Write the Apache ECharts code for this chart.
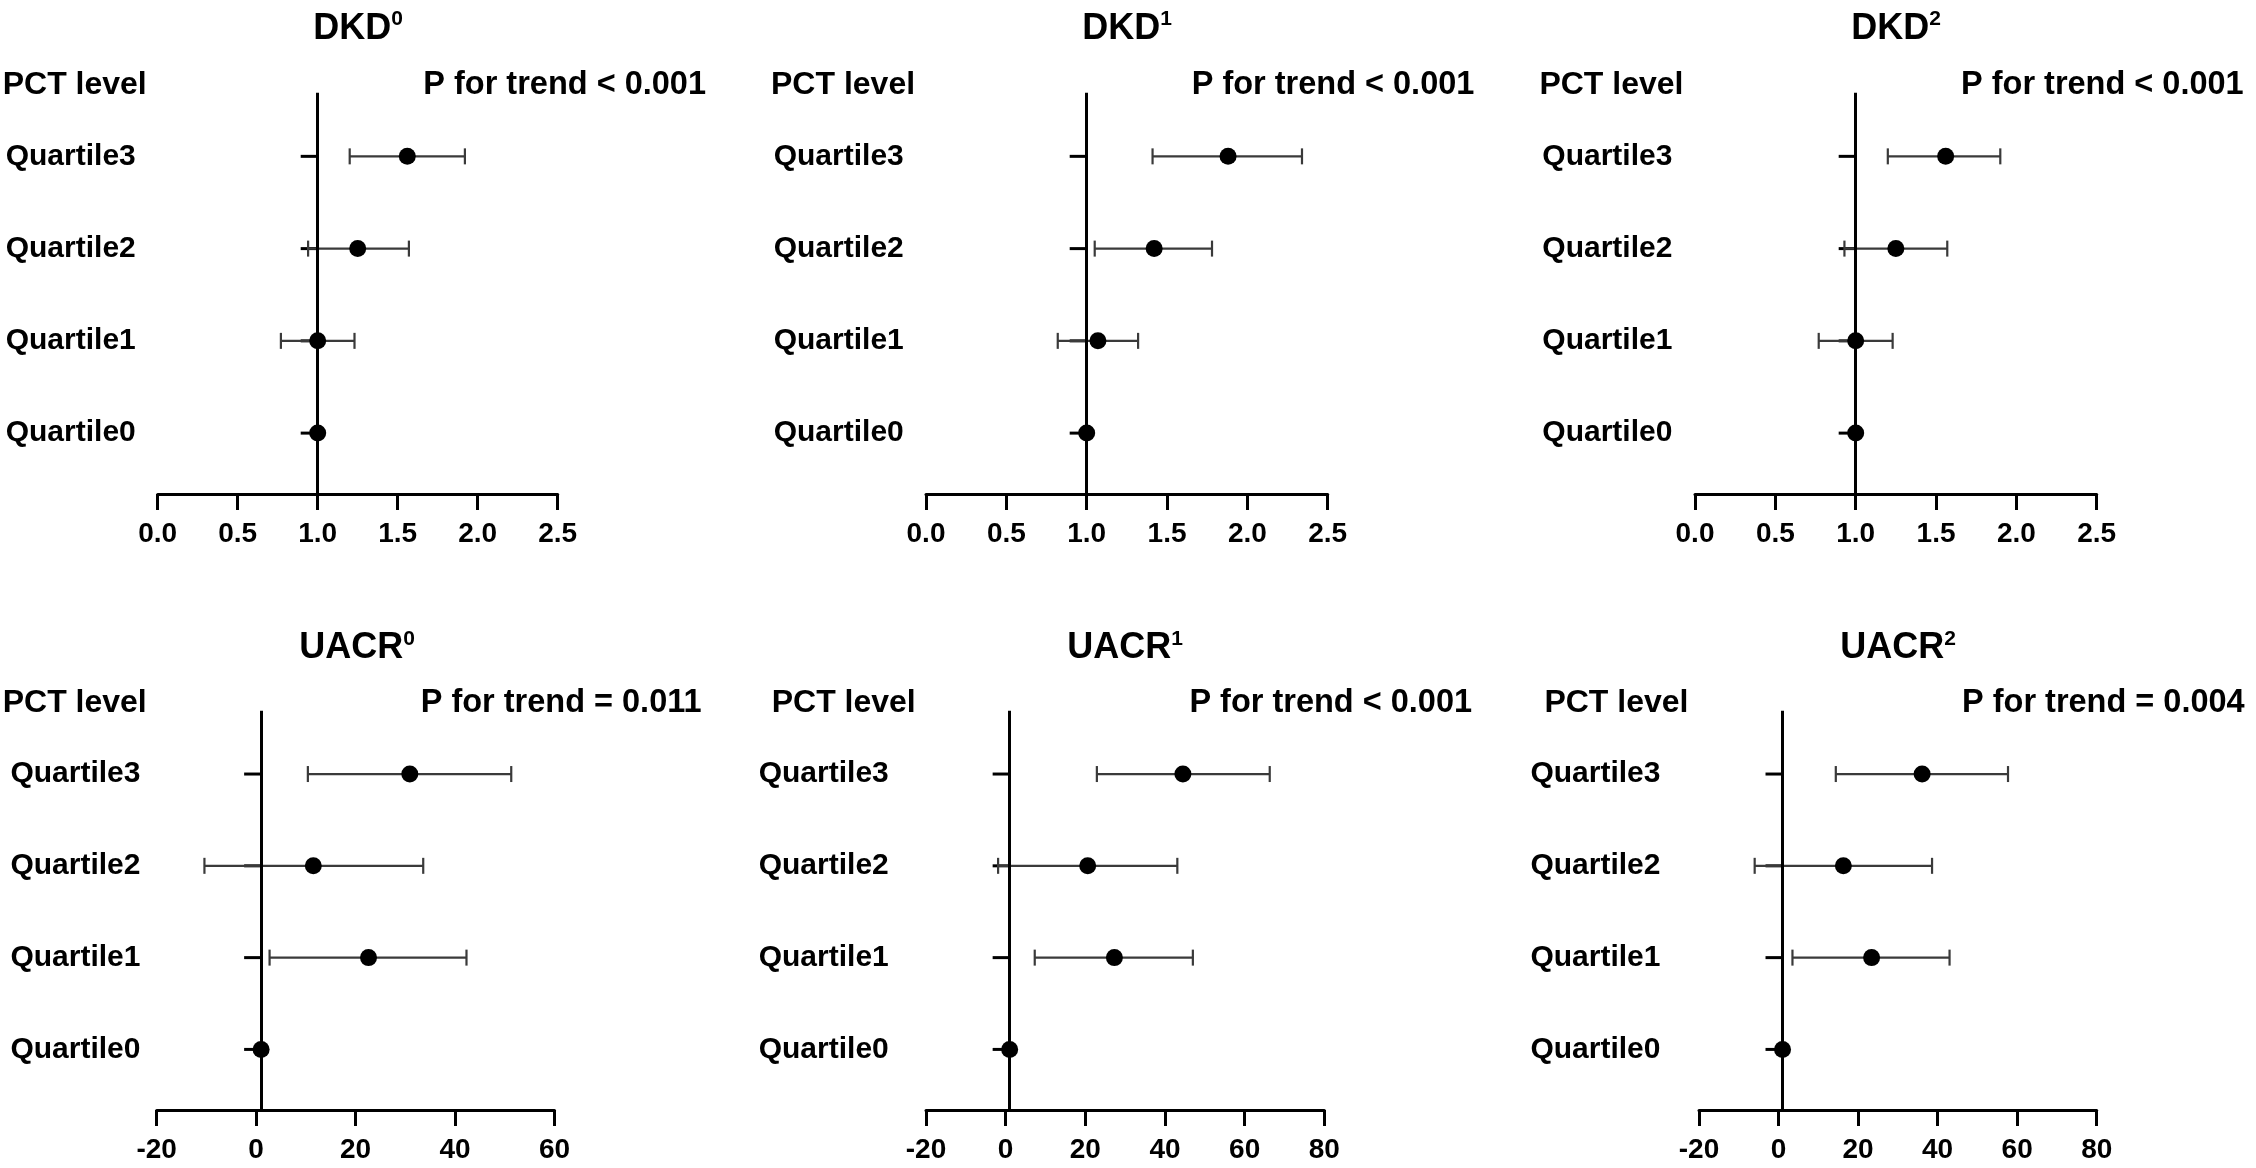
<!DOCTYPE html>
<html>

<head>
    <meta charset="utf-8">
    <script src="https://cdn.jsdelivr.net/npm/echarts@6/dist/echarts.min.js"></script>
    <style>
        html, body { margin: 0; padding: 0; background: #fff; }
    </style>
</head>

<body>
    <div id="main" style="width: 2256px;height:1168px;"></div>
    <script type="text/javascript">
        // data (Quartile0 is the reference group)
        var categories = ['Quartile0', 'Quartile1', 'Quartile2', 'Quartile3'];

        var dkd0Or = [1.00, 1.00, 1.25, 1.56];
        var dkd0Low = [null, 0.77, 0.94, 1.20];
        var dkd0High = [null, 1.23, 1.57, 1.92];

        var dkd1Or = [1.00, 1.07, 1.42, 1.88];
        var dkd1Low = [null, 0.82, 1.05, 1.41];
        var dkd1High = [null, 1.32, 1.78, 2.34];

        var dkd2Or = [1.00, 1.00, 1.25, 1.56];
        var dkd2Low = [null, 0.77, 0.93, 1.20];
        var dkd2High = [null, 1.23, 1.57, 1.90];

        var uacr0Or = [1, 22.6, 11.5, 30.9];
        var uacr0Low = [null, 2.7, -10.4, 10.4];
        var uacr0High = [null, 42.3, 33.6, 51.3];

        var uacr1Or = [1, 27.3, 20.6, 44.5];
        var uacr1Low = [null, 7.3, -1.9, 22.9];
        var uacr1High = [null, 47.0, 43.1, 66.3];

        var uacr2Or = [1, 23.4, 16.3, 36.1];
        var uacr2Low = [null, 3.5, -6.0, 14.4];
        var uacr2High = [null, 43.0, 38.6, 57.7];

        var titleMain = ['DKD', 'DKD', 'DKD', 'UACR', 'UACR', 'UACR'];
        var titleSup = ['0', '1', '2', '0', '1', '2'];
        var trendText = ['P for trend < 0.001', 'P for trend < 0.001', 'P for trend < 0.001',
            'P for trend = 0.011', 'P for trend < 0.001', 'P for trend = 0.004'];

        // x axis ranges [min, max, interval]
        var xRanges = [[0, 2.5, 0.5], [0, 2.5, 0.5], [0, 2.5, 0.5],
            [-20, 60, 20], [-20, 80, 20], [-20, 80, 20]];
        var refValue = 1;

        var orList = [dkd0Or, dkd1Or, dkd2Or, uacr0Or, uacr1Or, uacr2Or];
        var lowList = [dkd0Low, dkd1Low, dkd2Low, uacr0Low, uacr1Low, uacr2Low];
        var highList = [dkd0High, dkd1High, dkd2High, uacr0High, uacr1High, uacr2High];

        // layout of the six panels (pixels)
        var gridLeft = [157.7, 926, 1695, 156.7, 926, 1699];
        var gridWidth = [400, 401.7, 401.7, 397.8, 398.3, 397.7];
        var gridTop = [92.7, 92.7, 92.7, 710.7, 710.7, 710.7];
        var gridHeight = [401.3, 401.3, 401.3, 399.3, 399.3, 399.3];
        var labelLeft = [5.7, 773.7, 1542.3, 10.4, 758.7, 1530.4];
        var pctLeft = [2.7, 771, 1539.4, 2.7, 771.7, 1544.4];
        var trendLeft = [423.3, 1191.7, 1961, 420.7, 1189.4, 1962];
        var titleX = [358, 1127, 1896, 357, 1125, 1898];
        var titleTop = [9, 9, 9, 628.5, 628.5, 628.5];
        var headY = [85, 85, 85, 703, 703, 703];

        var font = '"Liberation Sans", Arial, sans-serif';

        var myChart = echarts.init(document.getElementById('main'));

        function renderErrorBar(params, api) {
            var y = api.value(0);
            var p1 = api.coord([api.value(1), y]);
            var p2 = api.coord([api.value(2), y]);
            var h = 8;
            var style = { stroke: '#3a3a3a', lineWidth: 2.2 };
            return {
                type: 'group',
                children: [
                    { type: 'line', shape: { x1: p1[0], y1: p1[1], x2: p2[0], y2: p2[1] }, style: style },
                    { type: 'line', shape: { x1: p1[0], y1: p1[1] - h, x2: p1[0], y2: p1[1] + h }, style: style },
                    { type: 'line', shape: { x1: p2[0], y1: p2[1] - h, x2: p2[0], y2: p2[1] + h }, style: style }
                ]
            };
        }

        function renderTick(params, api) {
            var p = api.coord([api.value(0), api.value(1)]);
            return {
                type: 'line',
                shape: { x1: p[0] - 17, y1: p[1], x2: p[0], y2: p[1] },
                style: { stroke: '#000', lineWidth: 3 }
            };
        }

        var grids = [], xAxes = [], yAxes = [], series = [], graphics = [];

        for (var k = 0; k < 6; k++) {
            grids.push({ left: gridLeft[k], top: gridTop[k], width: gridWidth[k], height: gridHeight[k] });

            var isDkd = k < 3;
            xAxes.push({
                gridIndex: k,
                type: 'value',
                min: xRanges[k][0],
                max: xRanges[k][1],
                interval: xRanges[k][2],
                splitLine: { show: false },
                axisLine: { onZero: false, lineStyle: { color: '#000', width: 3 } },
                axisTick: { length: 16, lineStyle: { color: '#000', width: 3 } },
                axisLabel: {
                    margin: 26,
                    color: '#000',
                    fontSize: 28,
                    fontWeight: 'bold',
                    fontFamily: font,
                    formatter: isDkd ? function (v) { return v.toFixed(1); } : null
                }
            });

            yAxes.push({
                gridIndex: k,
                type: 'value',
                min: -0.66,
                max: 3.69,
                splitLine: { show: false },
                axisLine: { show: false, onZero: false },
                axisTick: { show: false },
                axisLabel: {
                    customValues: [0, 1, 2, 3],
                    formatter: function (v) { return categories[Math.round(v)]; },
                    align: 'left',
                    margin: gridLeft[k] - labelLeft[k],
                    color: '#000',
                    fontSize: 30,
                    fontWeight: 'bold',
                    fontFamily: font
                }
            });

            var ticks = [], bars = [], points = [];
            for (var i = 0; i < categories.length; i++) {
                ticks.push([refValue, i]);
                points.push([orList[k][i], i]);
                if (lowList[k][i] !== null) {
                    bars.push([i, lowList[k][i], highList[k][i]]);
                }
            }

            // y axis drawn at x = 1, with its ticks pointing left
            series.push({
                type: 'custom',
                xAxisIndex: k,
                yAxisIndex: k,
                z: 1,
                silent: true,
                renderItem: renderTick,
                data: ticks,
                markLine: {
                    silent: true,
                    symbol: ['none', 'none'],
                    label: { show: false },
                    lineStyle: { color: '#000', width: 3, type: 'solid' },
                    data: [{ xAxis: refValue }]
                }
            });
            series.push({
                type: 'custom',
                xAxisIndex: k,
                yAxisIndex: k,
                z: 2,
                silent: true,
                renderItem: renderErrorBar,
                encode: { x: [1, 2], y: 0 },
                data: bars
            });
            series.push({
                type: 'scatter',
                xAxisIndex: k,
                yAxisIndex: k,
                z: 3,
                symbolSize: 17,
                itemStyle: { color: '#000', opacity: 1 },
                data: points
            });

            graphics.push({
                type: 'text',
                x: titleX[k],
                y: titleTop[k],
                style: {
                    text: '{b|' + titleMain[k] + '}{s|' + titleSup[k] + '}',
                    align: 'center',
                    verticalAlign: 'top',
                    fill: '#000',
                    rich: {
                        b: { fontSize: 36, fontWeight: 'bold', fontFamily: font, lineHeight: 40, fill: '#000' },
                        s: { fontSize: 21, fontWeight: 'bold', fontFamily: font, lineHeight: 22, verticalAlign: 'top', fill: '#000' }
                    }
                }
            });
            graphics.push({
                type: 'text',
                x: pctLeft[k],
                y: headY[k],
                style: {
                    text: 'PCT level',
                    fontSize: 32,
                    fontWeight: 'bold',
                    fontFamily: font,
                    fill: '#000',
                    verticalAlign: 'middle'
                }
            });
            graphics.push({
                type: 'text',
                x: trendLeft[k],
                y: headY[k],
                style: {
                    text: trendText[k],
                    fontSize: 32.5,
                    fontWeight: 'bold',
                    fontFamily: font,
                    fill: '#000',
                    verticalAlign: 'middle'
                }
            });
        }

        option = {
            backgroundColor: '#fff',
            animation: false,
            grid: grids,
            xAxis: xAxes,
            yAxis: yAxes,
            series: series,
            graphic: graphics
        };
        myChart.setOption(option);
    </script>
</body>

</html>
